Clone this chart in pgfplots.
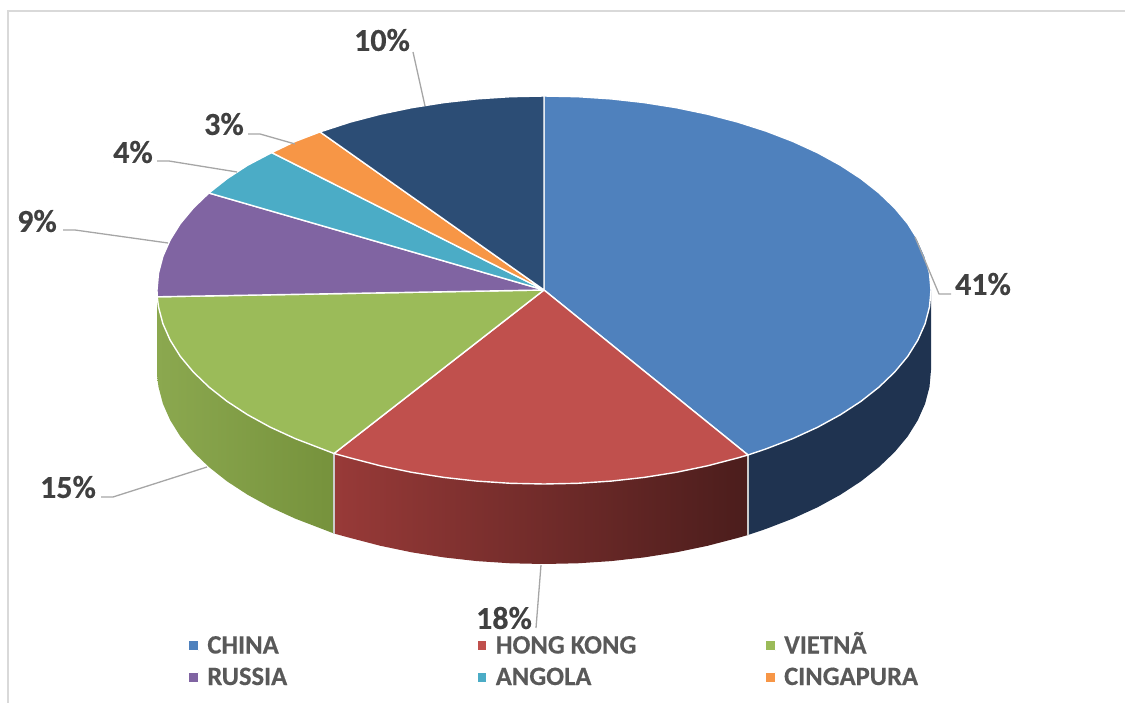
\documentclass[border=0pt]{standalone}
\usepackage{pgfplots}
\pgfplotsset{compat=1.18}
\usepackage{fontspec}
\setmainfont[BoldFeatures={FakeBold=0.4}]{Carlito}
\definecolor{cChina}{HTML}{4F81BD}
\definecolor{cHK}{HTML}{C0504D}
\definecolor{cViet}{HTML}{9BBB59}
\definecolor{cRus}{HTML}{8064A2}
\definecolor{cAng}{HTML}{4BACC6}
\definecolor{cCin}{HTML}{F79646}
\definecolor{cOut}{HTML}{2C4D75}
\definecolor{lead}{HTML}{A6A6A6}
\definecolor{lab}{HTML}{404040}
\definecolor{leg}{HTML}{595959}
\definecolor{wallC}{HTML}{1F3350}
\definecolor{wallHa}{HTML}{983A38}
\definecolor{wallHb}{HTML}{672725}
\definecolor{wallHc}{HTML}{4B1D1C}
\definecolor{wallVa}{HTML}{8BA84F}
\definecolor{wallVb}{HTML}{76923C}
\newcommand{\lbl}[1]{\fontsize{32}{33}\selectfont\bfseries #1}
\newcommand{\lgd}[1]{\makebox[272pt][l]{\hspace*{8pt}\smash{#1}\rule{0pt}{17pt}}}
\begin{document}
\begin{tikzpicture}
\useasboundingbox (0,0) rectangle (1125pt,703pt);
\begin{axis}[
  scale only axis, width=1125pt, height=703pt,
  xmin=0, xmax=1125, ymin=0, ymax=703, y dir=reverse,
  hide axis,
  legend columns=3,
  legend cell align=left,
  legend image code/.code={\fill[#1] (0pt,-5pt) rectangle (10pt,5pt);},
  legend style={at={(axis cs:188,636.5)}, anchor=north west, draw=none, fill=none,
    inner sep=0pt, outer sep=0pt, text=leg, row sep=13pt,
    font=\fontsize{26.5}{27}\selectfont\bfseries,
    nodes={inner sep=0pt, anchor=center},
    /tikz/every even column/.style={column sep=5pt}},
]
% border of the frame
\addplot[forget plot, color=black!15, line width=1.5pt] coordinates {(8,703) (8,11) (1125,11)};
% side walls
\addplot[forget plot, draw=none, fill=wallC] coordinates {
(931,290)(929.5,306.9)(925.1,323.7)(917.8,340.2)(907.7,356.4)(894.7,372)(879.1,387)(861,401.3)(840.5,414.7)(817.7,427.2)(792.8,438.6)(766,448.9)(748,455)
(748,535)(766,528.9)(792.8,518.6)(817.7,507.2)(840.5,494.7)(861,481.3)(879.1,467)(894.7,452)(907.7,436.4)(917.8,420.2)(925.1,403.7)(929.5,386.9)(931,370)} -- cycle;
\addplot[forget plot, draw=none, left color=wallHa, middle color=wallHb, right color=wallHc] coordinates {
(748,455)(737.5,458)(707.6,465.8)(676.4,472.3)(644.2,477.4)(611.2,481.1)(577.7,483.3)(544,484)(510.3,483.3)(476.8,481.1)(443.8,477.4)(411.6,472.3)(380.4,465.8)(350.5,458)(334,453.5)
(334,533.5)(350.5,538)(380.4,545.8)(411.6,552.3)(443.8,557.4)(476.8,561.1)(510.3,563.3)(544,564)(577.7,563.3)(611.2,561.1)(644.2,557.4)(676.4,552.3)(707.6,545.8)(737.5,538)(748,535)} -- cycle;
\addplot[forget plot, draw=none, left color=wallVa, right color=wallVb] coordinates {
(334,453.5)(322,448.9)(295.2,438.6)(270.3,427.2)(247.5,414.7)(227,401.3)(208.9,387)(193.3,372)(180.3,356.4)(170.2,340.2)(162.9,323.7)(158.5,306.9)(157.2,296.8)
(157.2,376.8)(158.5,386.9)(162.9,403.7)(170.2,420.2)(180.3,436.4)(193.3,452)(208.9,467)(227,481.3)(247.5,494.7)(270.3,507.2)(295.2,518.6)(322,528.9)(334,533.5)} -- cycle;
\addplot[forget plot, color=white!80!black, line width=1.2pt] coordinates {(748,455)(748,535)};
\addplot[forget plot, color=white!80!black, line width=1.2pt] coordinates {(334,453.5)(334,533.5)};
% top slices
\addplot[fill=cChina, draw=white, line width=1.4pt, line join=round] coordinates {
(544,290)(544,96)(577.7,96.7)(611.2,98.9)(644.2,102.6)(676.4,107.7)(707.6,114.2)(737.5,122)(766,131.1)(792.8,141.4)(817.7,152.8)(840.5,165.3)(861,178.7)(879.1,193)(894.7,208)(907.7,223.6)(917.8,239.8)(925.1,256.3)(929.5,273.1)(931,290)(929.5,306.9)(925.1,323.7)(917.8,340.2)(907.7,356.4)(894.7,372)(879.1,387)(861,401.3)(840.5,414.7)(817.7,427.2)(792.8,438.6)(766,448.9)(748,455)} -- cycle;
\addlegendentry{\lgd{CHINA}}
\addplot[fill=cHK, draw=white, line width=1.4pt, line join=round] coordinates {
(544,290)(748,455)(737.5,458)(707.6,465.8)(676.4,472.3)(644.2,477.4)(611.2,481.1)(577.7,483.3)(544,484)(510.3,483.3)(476.8,481.1)(443.8,477.4)(411.6,472.3)(380.4,465.8)(350.5,458)(334,453.5)} -- cycle;
\addlegendentry{\lgd{HONG KONG}}
\addplot[fill=cViet, draw=white, line width=1.4pt, line join=round] coordinates {
(544,290)(334,453.5)(322,448.9)(295.2,438.6)(270.3,427.2)(247.5,414.7)(227,401.3)(208.9,387)(193.3,372)(180.3,356.4)(170.2,340.2)(162.9,323.7)(158.5,306.9)(157.2,296.8)} -- cycle;
\addlegendentry{\lgd{VIETNÃ}}
\addplot[fill=cRus, draw=white, line width=1.4pt, line join=round] coordinates {
(544,290)(157.2,296.8)(157,290)(158.5,273.1)(162.9,256.3)(170.2,239.8)(180.3,223.6)(193.3,208)(208.9,193)} -- cycle;
\addlegendentry{\lgd{RUSSIA}}
\addplot[fill=cAng, draw=white, line width=1.4pt, line join=round] coordinates {
(544,290)(208.9,193)(227,178.7)(247.5,165.3)(271.7,152.6)} -- cycle;
\addlegendentry{\lgd{ANGOLA}}
\addplot[fill=cCin, draw=white, line width=1.4pt, line join=round] coordinates {
(544,290)(271.7,152.6)(295.2,141.4)(320,131.9)} -- cycle;
\addlegendentry{\lgd{CINGAPURA}}
\addplot[forget plot, fill=cOut, draw=white, line width=1.4pt, line join=round] coordinates {
(544,290)(320,131.9)(350.5,122)(380.4,114.2)(411.6,107.7)(443.8,102.6)(476.8,98.9)(510.3,96.7)(544,96)} -- cycle;
% leader lines
\addplot[forget plot, color=lead, line width=1.3pt] coordinates {(413,52)(425,106)};
\addplot[forget plot, color=lead, line width=1.3pt] coordinates {(248,134)(260,134)(295,144)};
\addplot[forget plot, color=lead, line width=1.3pt] coordinates {(157,161)(169,161)(237,172)};
\addplot[forget plot, color=lead, line width=1.3pt] coordinates {(63,230)(75,230)(168,243)};
\addplot[forget plot, color=lead, line width=1.3pt] coordinates {(951,294)(939,294)(915,237)};
\addplot[forget plot, color=lead, line width=1.3pt] coordinates {(101,497)(113,497)(207,467)};
\addplot[forget plot, color=lead, line width=1.3pt] coordinates {(541,565)(536,628)};
% data labels
\node[text=lab] at (axis cs:382,40) {\lbl{10\%}};
\node[text=lab] at (axis cs:224,124) {\lbl{3\%}};
\node[text=lab] at (axis cs:133,152) {\lbl{4\%}};
\node[text=lab] at (axis cs:37,221) {\lbl{9\%}};
\node[text=lab] at (axis cs:983,284) {\lbl{41\%}};
\node[text=lab] at (axis cs:68,487) {\lbl{15\%}};
\node[text=lab] at (axis cs:504,618) {\lbl{18\%}};
\end{axis}
\end{tikzpicture}
\end{document}
